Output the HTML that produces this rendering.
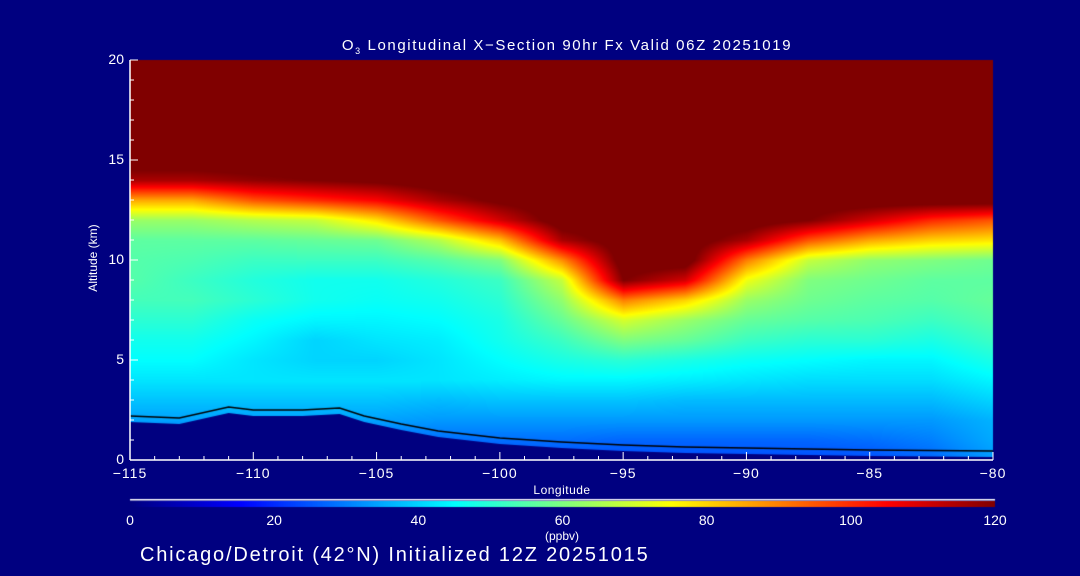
<!DOCTYPE html>
<html><head><meta charset="utf-8"><style>
html,body{margin:0;padding:0;background:#000080;}
#wrap{position:relative;width:1080px;height:576px;background:#000080;overflow:hidden;font-family:"Liberation Sans",sans-serif;color:#fff;}
canvas{position:absolute;left:0;top:0;}
svg{position:absolute;left:0;top:0;}
</style></head><body>
<div id="wrap">
<canvas id="cv" width="1080" height="576"></canvas>
<svg id="sv" width="1080" height="576"></svg>
</div>
<script>
const lons=[-115,-112.5,-110,-107.5,-105,-102.5,-100,-97.5,-95,-92.5,-90,-87.5,-85,-82.5,-80];
const alts=[20,19,18,17,16,15,14,13,12,11,10,9,8,7,6,5,4,3,2,1,0];
const o3=[
[125,125,125,125,125,125,125,125,125,125,125,125,125,125,125],
[125,125,125,125,125,125,125,125,125,125,125,125,125,125,125],
[125,125,125,125,125,125,125,125,125,125,125,125,125,125,125],
[125,125,125,125,125,125,125,125,125,125,125,125,125,125,125],
[125,125,125,125,125,125,125,125,125,125,125,125,125,125,125],
[125,125,125,125,125,125,125,125,125,125,125,125,125,125,125],
[115,115,118,120,122,125,125,125,125,125,125,125,125,125,125],
[85,85,95,100,105,115,122,125,125,125,125,125,125,125,125],
[63,63,66,68,78,95,110,125,125,125,125,120,110,100,95],
[56,56,56,57,58,66,82,115,125,125,115,95,85,80,78],
[55,54,52,52,52,55,60,88,125,125,90,68,62,60,58],
[55,52,49,47,47,49,52,68,120,110,73,60,58,56,56],
[53,53,50,47,46,47,50,62,90,80,63,58,56,55,57],
[50,50,46,44,44,45,48,57,70,63,57,55,54,52,55],
[47,47,44,40,42,43,47,52,60,57,52,50,50,48,52],
[45,45,42,40,40,42,45,48,50,48,46,45,44,44,48],
[42,42,42,42,42,42,43,44,44,43,42,41,41,41,44],
[38,38,38,38,38,37,38,38,38,37,37,37,37,37,40],
[34,34,34,34,34,33,33,33,33,33,33,33,33,33,36],
[28,28,28,28,28,28,28,28,27,27,27,27,28,30,35],
[24,24,24,24,24,24,24,24,24,24,24,24,24,27,33]];
const terrLon=[-115,-113,-111,-110,-108,-106.5,-105.5,-104,-102.5,-100,-97.5,-95,-92.5,-90,-85,-80];
const terrAlt=[1.9,1.8,2.35,2.2,2.2,2.3,1.9,1.5,1.15,0.8,0.6,0.45,0.35,0.3,0.2,0.15];
const xTicks=[-115,-110,-105,-100,-95,-90,-85,-80];
const yTicks=[0,5,10,15,20];
const cbTicks=[0,20,40,60,80,100,120];

const X0=130,X1=993,Y0=460,Y1=60;
const xs=l=>X0+(l+115)/35*(X1-X0);
const ys=a=>Y0-a/20*(Y0-Y1);
function jet(v){let t=Math.max(0,Math.min(1,v/120));
 const st=[[0,0,0,128],[.125,0,0,255],[.375,0,255,255],[.625,255,255,0],[.875,255,0,0],[1,128,0,0]];
 for(let i=1;i<st.length;i++){if(t<=st[i][0]){const a=st[i-1],b=st[i],f=(t-a[0])/(b[0]-a[0]);
 return [a[1]+f*(b[1]-a[1]),a[2]+f*(b[2]-a[2]),a[3]+f*(b[3]-a[3])];}}return [128,0,0];}
function val(lon,alt){
 let fi=(lon+115)/2.5, fj=(20-alt);
 fi=Math.max(0,Math.min(lons.length-1.001,fi));fj=Math.max(0,Math.min(alts.length-1.001,fj));
 const i=Math.floor(fi),j=Math.floor(fj),a=fi-i,b=fj-j;
 return (o3[j][i]*(1-a)+o3[j][i+1]*a)*(1-b)+(o3[j+1][i]*(1-a)+o3[j+1][i+1]*a)*b;}
const ctx=document.getElementById('cv').getContext('2d');
const img=ctx.createImageData(X1-X0,Y0-Y1);
for(let py=0;py<Y0-Y1;py++)for(let px=0;px<X1-X0;px++){
 const lon=-115+px/(X1-X0)*35,alt=20-py/(Y0-Y1)*20;
 const c=jet(Math.min(120,val(lon,alt)));const k=(py*(X1-X0)+px)*4;
 img.data[k]=c[0];img.data[k+1]=c[1];img.data[k+2]=c[2];img.data[k+3]=255;}
ctx.putImageData(img,X0,Y1);
ctx.fillStyle='#000080';ctx.beginPath();ctx.moveTo(xs(-115),Y0);
for(let i=0;i<terrLon.length;i++)ctx.lineTo(xs(terrLon[i]),ys(terrAlt[i]));
ctx.lineTo(xs(-80),Y0);ctx.closePath();ctx.fill();
ctx.strokeStyle='#000';ctx.lineWidth=1.5;ctx.beginPath();
for(let i=0;i<terrLon.length;i++){const x=xs(terrLon[i]),y=ys(terrAlt[i]+0.3);i?ctx.lineTo(x,y):ctx.moveTo(x,y);}ctx.stroke();
for(let px=0;px<865;px++){const c=jet(px/865*120);ctx.fillStyle=`rgb(${c[0]|0},${c[1]|0},${c[2]|0})`;ctx.fillRect(130+px,501,1,6);}
ctx.fillStyle='#fff';ctx.fillRect(130,499,865,1.5);

const sv=document.getElementById('sv');const NS='http://www.w3.org/2000/svg';
function el(t,a,txt){const e=document.createElementNS(NS,t);for(const k in a)e.setAttribute(k,a[k]);if(txt!==undefined)e.textContent=txt;sv.appendChild(e);return e;}
let e;
e=el('line',{x1:X0,y1:Y0,x2:X1,y2:Y0,stroke:'#fff','stroke-width':1.5});


e=el('line',{x1:X0,y1:Y0,x2:X0,y2:Y1,stroke:'#fff','stroke-width':1.5});


for(let l=-115;l<=-80;l++){const x=xs(l);const big=l%5===0;
 el('line',{x1:x,y1:Y0,x2:x,y2:Y0-(big?8:4),stroke:'#fff'});}
xTicks.forEach(l=>{e=el('text',{x:xs(l),y:478,fill:'#fff','font-size':14,'letter-spacing':1,'text-anchor':'middle'},'\u2212'+Math.abs(l));

});
for(let a=0;a<=20;a++){const y=ys(a);el('line',{x1:X0,y1:y,x2:X0+(a%5===0?8:4),y2:y,stroke:'#fff'});}
yTicks.forEach(a=>{e=el('text',{x:124,y:ys(a)+4,fill:'#fff','font-size':14,'text-anchor':'end'},String(a));

});
cbTicks.forEach(v=>{e=el('text',{x:130+v/120*865,y:525,fill:'#fff','font-size':14,'text-anchor':'middle'},String(v));

});
e=el('text',{x:562,y:494,fill:'#fff','font-size':12,'letter-spacing':0.5,'text-anchor':'middle'},'Longitude');


e=el('text',{x:97,y:258,fill:'#fff','font-size':12,'text-anchor':'middle',transform:'rotate(-90 97 258)'},'Altitude (km)');


e=el('text',{x:562,y:540,fill:'#fff','font-size':12,'text-anchor':'middle'},'(ppbv)');


e=el('text',{x:567,y:50,fill:'#fff','font-size':15,'letter-spacing':1.6,'text-anchor':'middle'});
e.innerHTML='O<tspan font-size="9" dy="4">3</tspan><tspan dy="-4"> Longitudinal X\u2212Section 90hr  Fx Valid 06Z 20251019</tspan>';


e=el('text',{x:140,y:561,fill:'#fff','font-size':20,'letter-spacing':1.8},'Chicago/Detroit (42\u00b0N) Initialized 12Z 20251015');


</script>
</body></html>
